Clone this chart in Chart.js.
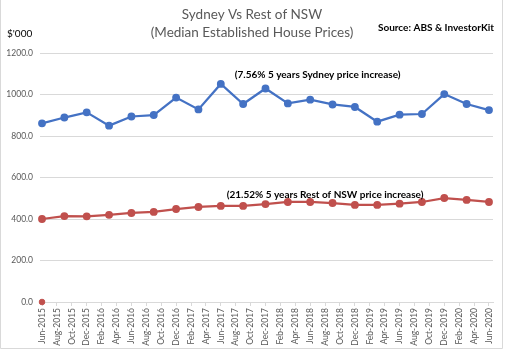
<!DOCTYPE html>
<html>
<head>
<meta charset="utf-8">
<script src="https://cdn.jsdelivr.net/npm/chart.js@4"></script>
<style>
  html, body { margin: 0; padding: 0; background: #fff; }
  #wrap { width: 505px; height: 350px; }
</style>
</head>
<body>
<div id="wrap"><canvas id="line-chart" width="505" height="350"></canvas></div>
<script>
// tick labels on the x axis, every 2 months
const tickLabels = ["Jun-2015","Aug-2015","Oct-2015","Dec-2015","Feb-2016","Apr-2016","Jun-2016","Aug-2016","Oct-2016","Dec-2016",
  "Feb-2017","Apr-2017","Jun-2017","Aug-2017","Oct-2017","Dec-2017","Feb-2018","Apr-2018","Jun-2018","Aug-2018",
  "Oct-2018","Dec-2018","Feb-2019","Apr-2019","Jun-2019","Aug-2019","Oct-2019","Dec-2019","Feb-2020","Apr-2020","Jun-2020"];
// quarterly observations, months since Jun-2015
const months = [0,3,6,9,12,15,18,21,24,27,30,33,36,39,42,45,48,51,54,57,60];
const sydney = [861,889,914,850,894,901,985,928,1051,954,1029,957,975,952,940,869,903,906,1002,954,925];
const restNSW = [400,414,413,420,429,434,448,458,463,463,472,482,482,477,468,468,474,482,501,492,482];
const strayPoint = [0];

const textGrey = "#595959";
const blue = "#4472C4", red = "#C0504D";

function pts(vals){ return vals.map((v, i) => ({x: months[i], y: v})); }

const textPlugin = {
  id: 'texts',
  afterDraw(chart){
    const c = chart.ctx, xs = chart.scales.x, ys = chart.scales.y;
    c.save();
    c.strokeStyle = "#d9d9d9"; c.lineWidth = 1;
    c.beginPath();
    c.moveTo(0.5, 0); c.lineTo(0.5, 348.5); c.lineTo(502.5, 348.5); c.lineTo(502.5, 0);
    c.stroke();
    c.textBaseline = "middle";
    c.fillStyle = textGrey;
    c.textAlign = "center";
    c.font = "13.5px Lato";
    c.fillText("Sydney Vs Rest of NSW", 252, 15);
    c.fillText("(Median Established House Prices)", 252, 33);
    c.textAlign = "left";
    c.fillStyle = "#000";
    c.font = "10px Lato";
    c.fillText("$'000", 7, 34);
    c.font = "bold 10px Lato";
    c.textAlign = "right";
    c.fillText("Source: ABS & InvestorKit", 494, 28);
    c.textAlign = "center";
    c.font = "bold 10px Lato";
    c.fillText("(7.56% 5 years Sydney price increase)", xs.getPixelForValue(37), ys.getPixelForValue(1094));
    c.fillText("(21.52% 5 years Rest of NSW price increase)", xs.getPixelForValue(38), ys.getPixelForValue(516));
    c.restore();
  }
};

new Chart(document.getElementById("line-chart"), {
  type: 'line',
  data: {
    datasets: [{
      label: 'Sydney',
      data: pts(sydney),
      borderColor: blue, backgroundColor: blue,
      borderWidth: 2.25, pointRadius: 2.8, pointHoverRadius: 2.8
    }, {
      label: 'Rest of NSW',
      data: pts(restNSW),
      borderColor: red, backgroundColor: red,
      borderWidth: 2.25, pointRadius: 2.8, pointHoverRadius: 2.8
    }, {
      label: 'stray',
      data: pts(strayPoint),
      showLine: false,
      borderColor: red, backgroundColor: red,
      pointRadius: 2.8
    }]
  },
  options: {
    responsive: false,
    animation: false,
    clip: false,
    layout: { padding: { top: 53, right: 12, left: 0, bottom: 0 } },
    plugins: { legend: { display: false }, tooltip: { enabled: false } },
    scales: {
      x: {
        type: 'linear',
        min: -0.27, max: 60.54,
        afterBuildTicks(scale){ scale.ticks = tickLabels.map((_, i) => ({value: i * 2})); },
        afterFit(scale){ scale.height = 48; },
        ticks: {
          callback: (v) => tickLabels[v / 2],
          minRotation: 90, maxRotation: 90, autoSkip: false,
          color: textGrey, font: { family: 'Lato', size: 8.5 }, padding: 2
        },
        grid: { drawOnChartArea: false, drawTicks: true, tickLength: 4, color: "#d9d9d9" },
        border: { color: "#d9d9d9" }
      },
      y: {
        min: 0, max: 1200,
        afterFit(scale){ scale.width = 40; },
        ticks: {
          stepSize: 200,
          callback: (v) => v.toFixed(1),
          color: textGrey, font: { family: 'Lato', size: 8.5 }, padding: 7
        },
        grid: { color: "#d9d9d9", drawTicks: false },
        border: { display: false }
      }
    }
  },
  plugins: [textPlugin]
});
</script>
</body>
</html>
